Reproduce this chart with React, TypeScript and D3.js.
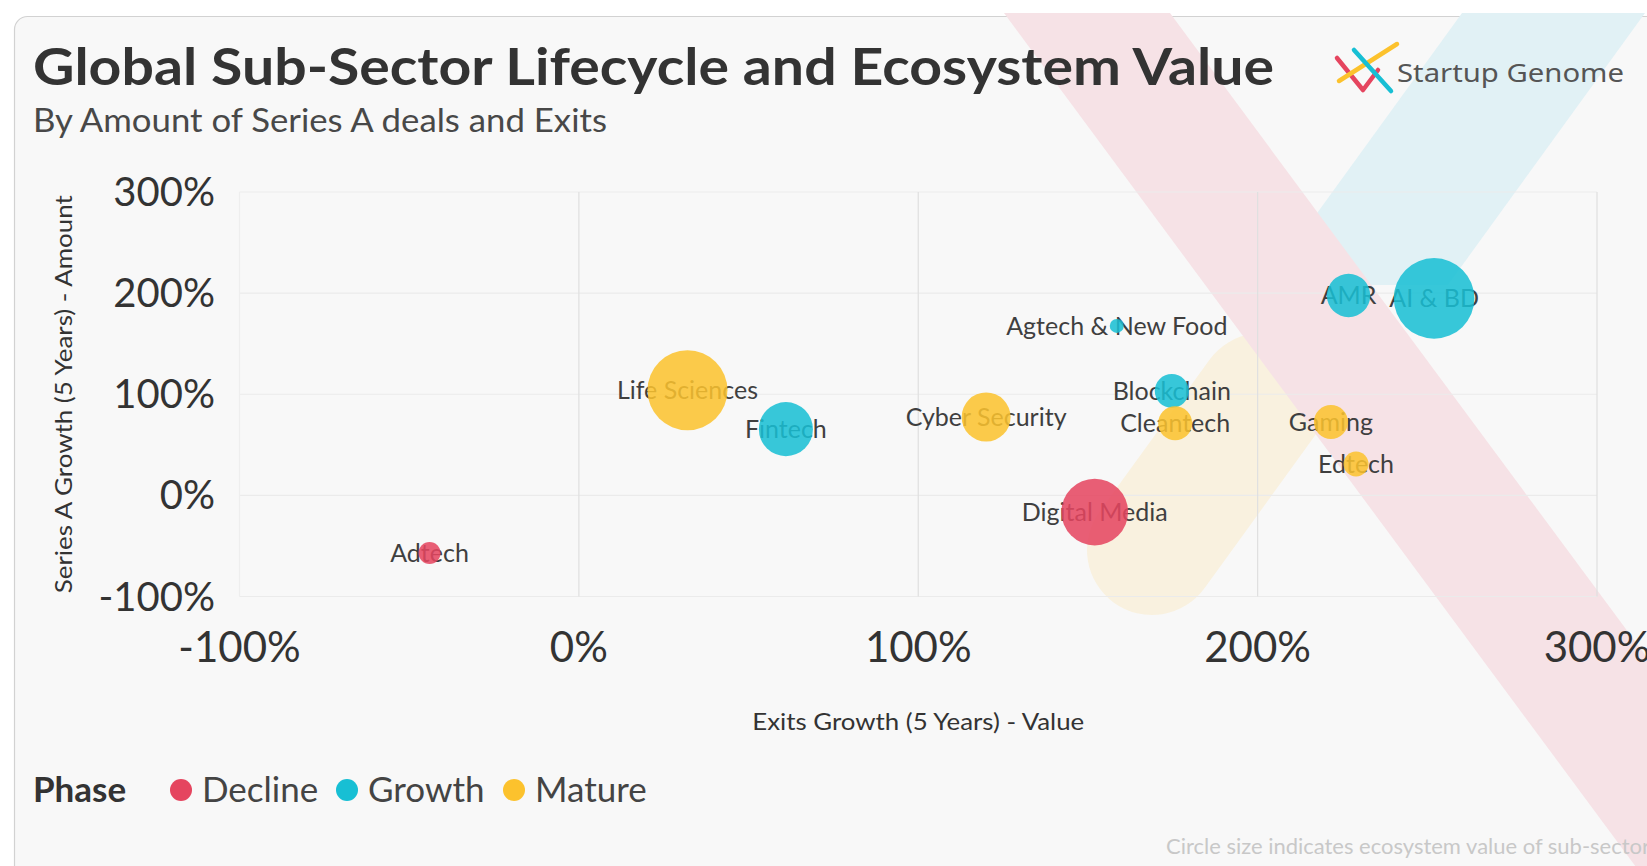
import React from "react";
import * as d3 from "d3";

// ---------- data ----------
const sectors = [
  "Adtech",
  "Life Sciences",
  "Fintech",
  "Cyber Security",
  "Agtech & New Food",
  "Blockchain",
  "Cleantech",
  "Digital Media",
  "AMR",
  "AI & BD",
  "Gaming",
  "Edtech",
];
// Exits Growth (5 Years) - Value, %
const exitsGrowth = [-44, 32, 61, 120, 158.5, 174.7, 175.7, 152, 226.8, 252, 221.6, 229];
// Series A Growth (5 Years) - Amount, %
const seriesAGrowth = [-57, 104, 65.5, 77.5, 167.6, 103.3, 71.3, -16.5, 197.7, 194.8, 72.6, 31];
const phases = [
  "Decline",
  "Mature",
  "Growth",
  "Mature",
  "Growth",
  "Growth",
  "Mature",
  "Decline",
  "Growth",
  "Growth",
  "Mature",
  "Mature",
];
// ecosystem value (relative units) -> circle area
const ecosystemValue = [121, 1600, 730, 600, 49, 289, 289, 1110, 470, 1624, 289, 156];

const phaseNames = ["Decline", "Growth", "Mature"];
const phaseColors = ["#e5455f", "#17bfd4", "#fcc22d"];

const xTicks = [-100, 0, 100, 200, 300];
const yTicks = [-100, 0, 100, 200, 300];

const FONT = "Lato, 'Open Sans', 'Noto Sans', sans-serif";

export default function App() {
  const W = 1647;
  const H = 866;

  const x = d3.scaleLinear().domain([-100, 300]).range([239.5, 1597]);
  const y = d3.scaleLinear().domain([-100, 300]).range([596.5, 192]);
  const r = d3.scaleSqrt().domain([0, 1600]).range([0, 40]);
  const color = d3.scaleOrdinal<string, string>().domain(phaseNames).range(phaseColors);
  const fmt = (v: number) => `${v}%`;

  const points = sectors.map((s, i) => ({
    name: s,
    x: exitsGrowth[i],
    y: seriesAGrowth[i],
    phase: phases[i],
    value: ecosystemValue[i],
  }));

  // legend layout
  const legendX = [181, 347, 514];
  const legendY = 790;

  // decorative bands
  const slope = 0.74;
  const pinkBand = [
    [1004, 13],
    [1170, 13],
    [1170 + slope * 900, 913],
    [1004 + slope * 900, 913],
  ];
  const cyanBand = [
    [1462, 13],
    [1645, 13],
    [1448, 285],
    [1265, 285],
  ];
  const poly = (pts: number[][]) => pts.map((p) => p.join(",")).join(" ");

  return (
    <svg
      width={W}
      height={H}
      style={{ position: "absolute", left: 0, top: 0, display: "block" }}
      fontFamily={FONT}
    >
      <rect x={0} y={0} width={W} height={H} fill="#ffffff" />
      {/* card */}
      <rect x={14.5} y={16.5} width={1800} height={1000} rx={13} fill="#f8f8f8" stroke="#d2d2d2" strokeWidth={1.2} />

      {/* decorative background bands */}
      <g>
        <line x1={1152} y1={550} x2={1262} y2={398} stroke="#f9f1df" strokeWidth={130} strokeLinecap="round" />
        <polygon points={poly(cyanBand)} fill="#e1f1f5" />
        <polygon points={poly(pinkBand)} fill="#f6e2e6" />
      </g>

      {/* title */}
      <text x={33} y={85} fontSize={52} fontWeight={700} fill="#333" textLength={1241} lengthAdjust="spacingAndGlyphs">
        Global Sub-Sector Lifecycle and Ecosystem Value
      </text>
      <text x={33} y={132} fontSize={33} fill="#484848" textLength={574} lengthAdjust="spacingAndGlyphs">
        By Amount of Series A deals and Exits
      </text>

      {/* logo */}
      <g fill="none" strokeWidth={4.5} strokeLinecap="round" strokeLinejoin="round">
        <polyline points="1337,58 1363,90 1378,70" stroke="#e5455f" />
        <line x1={1339} y1={81} x2={1397} y2={44} stroke="#fcc22d" />
        <line x1={1354} y1={50} x2={1391} y2={91} stroke="#17bfd4" />
      </g>
      <text x={1397} y={82} fontSize={26} fill="#555" fontFamily="'Noto Sans', 'Open Sans', sans-serif" textLength={227} lengthAdjust="spacingAndGlyphs">
        Startup Genome
      </text>

      {/* grid */}
      <g>
        {yTicks.map((t) => (
          <line key={"gy" + t} x1={x(-100)} x2={x(300)} y1={y(t)} y2={y(t)} stroke="#ebebeb" strokeWidth={1.2} />
        ))}
        {xTicks.map((t) => (
          <line
            key={"gx" + t}
            x1={x(t)}
            x2={x(t)}
            y1={y(300)}
            y2={y(-100)}
            stroke={t === -100 ? "#eeeeee" : "#e0e0e0"}
            strokeWidth={1.2}
          />
        ))}
      </g>

      {/* y ticks */}
      <g fontSize={40} fill="#333" textAnchor="end">
        {yTicks.map((t) => (
          <text key={"ty" + t} x={215} y={y(t)} dy="0.35em">
            {fmt(t)}
          </text>
        ))}
      </g>
      {/* x ticks */}
      <g fontSize={42} fill="#333" textAnchor="middle">
        {xTicks.map((t) => (
          <text key={"tx" + t} x={x(t)} y={662}>
            {fmt(t)}
          </text>
        ))}
      </g>

      {/* axis titles */}
      <text x={x(100)} y={730} fontSize={23} fill="#333" textAnchor="middle" textLength={332} lengthAdjust="spacingAndGlyphs">
        Exits Growth (5 Years) - Value
      </text>
      <text
        transform={`translate(72,${(y(300) + y(-100)) / 2}) rotate(-90)`}
        fontSize={24}
        fill="#333"
        textAnchor="middle"
        textLength={398}
        lengthAdjust="spacingAndGlyphs"
      >
        Series A Growth (5 Years) - Amount
      </text>

      {/* labels under circles */}
      <g fontSize={25} fill="#3f3f3f" textAnchor="middle">
        {points.map((p) => (
          <text key={"l" + p.name} x={x(p.x)} y={y(p.y)} dy="0.35em">
            {p.name}
          </text>
        ))}
      </g>
      {/* bubbles */}
      <g>
        {points.map((p) => (
          <circle key={"c" + p.name} cx={x(p.x)} cy={y(p.y)} r={r(p.value)} fill={color(p.phase)} fillOpacity={0.86} />
        ))}
      </g>

      {/* legend */}
      <text x={33} y={legendY + 12} fontSize={35} fontWeight={700} fill="#333">
        Phase
      </text>
      {phaseNames.map((n, i) => (
        <g key={"lg" + n}>
          <circle cx={legendX[i]} cy={legendY} r={11} fill={color(n)} />
          <text x={legendX[i] + 21} y={legendY + 12} fontSize={35} fill="#444">
            {n}
          </text>
        </g>
      ))}

      {/* footnote */}
      <text x={1166} y={854} fontSize={21.5} fill="#c8c8c8" textLength={484} lengthAdjust="spacingAndGlyphs">
        Circle size indicates ecosystem value of sub-sector
      </text>
    </svg>
  );
}
